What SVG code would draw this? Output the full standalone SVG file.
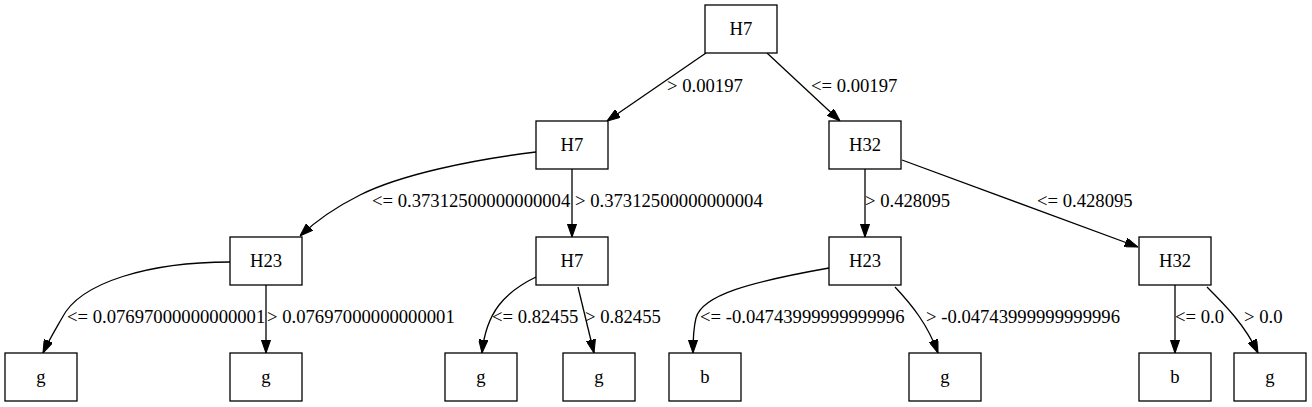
<svg xmlns="http://www.w3.org/2000/svg" width="1312" height="407" viewBox="0 0 1312 407">
<style>
.n rect{fill:#fff;stroke:#000;stroke-width:1.3}
.n text{font-family:"Liberation Serif","Times New Roman",serif;font-size:18.67px;text-anchor:middle;fill:#000}
.e path{fill:none;stroke:#000;stroke-width:1.3}
.lbl{font-family:"Liberation Serif","Times New Roman",serif;font-size:18.67px;fill:#000}
</style>
<defs>
<marker id="ah" viewBox="0 0 10 7" refX="10" refY="3.5" markerWidth="13.3" markerHeight="9.3" markerUnits="userSpaceOnUse" orient="auto">
<path d="M0,0 L10,3.5 L0,7 z" fill="#000" stroke="#000" stroke-width="0.8"/>
</marker>
</defs>
<rect width="1312" height="407" fill="#fff"/>
<g id="edges" class="e">
<path d="M706,53 L607,121" marker-end="url(#ah)"/>
<path d="M767,53 L840,121" marker-end="url(#ah)"/>
<path d="M536,152 C470,160 400,175 360,195 C340,205 318,219 300,236" marker-end="url(#ah)"/>
<path d="M572,169 L572,237" marker-end="url(#ah)"/>
<path d="M865,169 L865,237" marker-end="url(#ah)"/>
<path d="M902,160 L1138,247" marker-end="url(#ah)"/>
<path d="M230,262 C150,262 80,282 62,318 C54,332 48,342 43,353" marker-end="url(#ah)"/>
<path d="M266,285 L266,353" marker-end="url(#ah)"/>
<path d="M536,277 C505,292 486,312 482,353" marker-end="url(#ah)"/>
<path d="M578,287 L594,353" marker-end="url(#ah)"/>
<path d="M829,268 C750,282 702,295 696,318 C693,330 693,342 693,353" marker-end="url(#ah)"/>
<path d="M895,287 C912,305 928,325 938,353" marker-end="url(#ah)"/>
<path d="M1175,285 L1175,353" marker-end="url(#ah)"/>
<path d="M1207,287 C1225,305 1245,325 1258,353" marker-end="url(#ah)"/>
</g>
<g id="labels">
<text class="lbl" x="667" y="92">&gt; 0.00197</text>
<text class="lbl" x="811" y="92">&lt;= 0.00197</text>
<text class="lbl" x="372" y="207">&lt;= 0.37312500000000004</text>
<text class="lbl" x="575" y="207">&gt; 0.37312500000000004</text>
<text class="lbl" x="865" y="207">&gt; 0.428095</text>
<text class="lbl" x="1037" y="207">&lt;= 0.428095</text>
<text class="lbl" x="67" y="323">&lt;= 0.07697000000000001</text>
<text class="lbl" x="267" y="323">&gt; 0.07697000000000001</text>
<text class="lbl" x="492" y="323">&lt;= 0.82455</text>
<text class="lbl" x="585" y="323">&gt; 0.82455</text>
<text class="lbl" x="700" y="323">&lt;= -0.04743999999999996</text>
<text class="lbl" x="926" y="323">&gt; -0.04743999999999996</text>
<text class="lbl" x="1175" y="323">&lt;= 0.0</text>
<text class="lbl" x="1244" y="323">&gt; 0.0</text>
</g>
<g id="n0" class="n"><rect x="705" y="5" width="72" height="48"/><text x="741" y="34.5">H7</text></g>
<g id="n1" class="n"><rect x="536" y="121" width="72" height="48"/><text x="572" y="150.5">H7</text></g>
<g id="n2" class="n"><rect x="829" y="121" width="72" height="48"/><text x="865" y="150.5">H32</text></g>
<g id="n3" class="n"><rect x="230" y="237" width="72" height="48"/><text x="266" y="266.5">H23</text></g>
<g id="n4" class="n"><rect x="536" y="237" width="72" height="48"/><text x="572" y="266.5">H7</text></g>
<g id="n5" class="n"><rect x="829" y="237" width="72" height="48"/><text x="865" y="266.5">H23</text></g>
<g id="n6" class="n"><rect x="1139" y="237" width="72" height="48"/><text x="1175" y="266.5">H32</text></g>
<g id="n7" class="n"><rect x="5" y="353" width="72" height="48"/><text x="41" y="382.5">g</text></g>
<g id="n8" class="n"><rect x="230" y="353" width="72" height="48"/><text x="266" y="382.5">g</text></g>
<g id="n9" class="n"><rect x="445" y="353" width="72" height="48"/><text x="481" y="382.5">g</text></g>
<g id="n10" class="n"><rect x="563" y="353" width="72" height="48"/><text x="599" y="382.5">g</text></g>
<g id="n11" class="n"><rect x="669" y="353" width="72" height="48"/><text x="705" y="382.5">b</text></g>
<g id="n12" class="n"><rect x="909" y="353" width="72" height="48"/><text x="945" y="382.5">g</text></g>
<g id="n13" class="n"><rect x="1139" y="353" width="72" height="48"/><text x="1175" y="382.5">b</text></g>
<g id="n14" class="n"><rect x="1234" y="353" width="72" height="48"/><text x="1270" y="382.5">g</text></g>
</svg>
